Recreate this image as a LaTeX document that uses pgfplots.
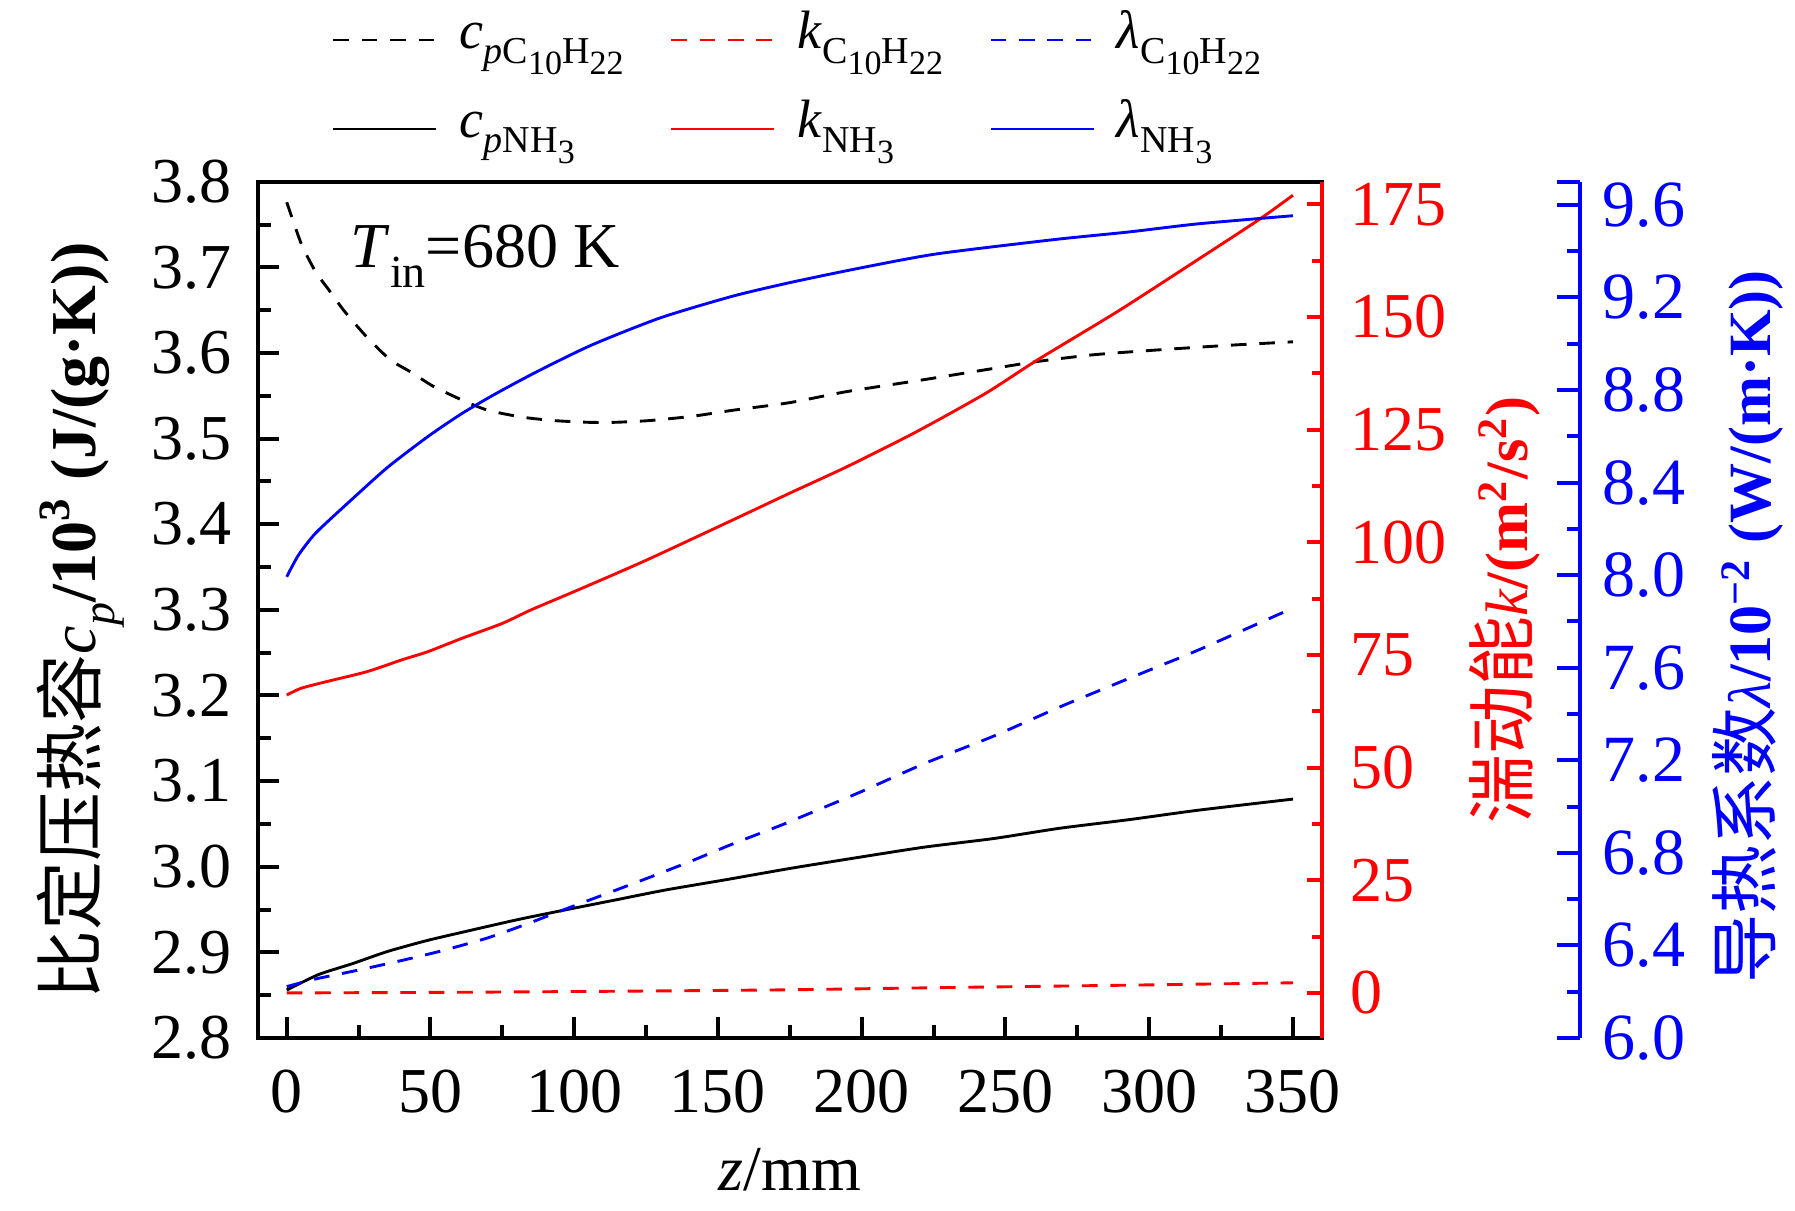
\documentclass[border=0pt]{standalone}
\usepackage{fontspec}
\setmainfont{Liberation Serif}
\newfontfamily\cjk{Noto Sans CJK SC}
\usepackage{pgfplots}
\usepackage{pgfplotstable}
\pgfplotsset{compat=1.18}

\pgfplotstableread{
z v
0 3.776
5 3.728
10 3.695
15 3.672
20 3.649
28 3.618
36 3.592
43 3.578
51 3.561
61 3.545
70 3.533
82 3.525
93 3.521
105 3.519
114 3.519
126 3.521
141 3.526
155 3.533
175 3.542
195 3.555
222 3.569
246 3.582
261 3.590
281 3.598
305 3.604
328 3.609
350 3.613
}\cpC

\pgfplotstableread{
z v
0 2.856
11 2.874
23 2.887
35 2.901
49 2.914
63 2.925
80 2.938
96 2.949
114 2.961
132 2.973
153 2.985
175 2.998
199 3.011
222 3.023
246 3.033
269 3.045
293 3.055
317 3.066
350 3.079
}\cpN

\pgfplotstableread{
z v
0 0.0
60 0.15
120 0.4
175 0.7
230 1.2
290 1.7
350 2.25
}\kC

\pgfplotstableread{
z v
0 66.1
5 67.6
14 69.1
28 71.3
40 73.9
49 75.7
61 78.7
75 82.0
85 85.0
102 89.6
125 96.0
155 104.9
175 110.9
195 116.8
219 124.5
243 133.0
261 140.4
289 151.2
314 161.5
338 171.5
350 177.0
}\kN

\pgfplotstableread{
z v
0 6.222
10 6.255
24 6.291
40 6.335
54 6.377
70 6.433
84 6.495
98 6.562
113 6.632
127 6.698
141 6.766
155 6.838
170 6.910
175 6.935
199 7.060
222 7.187
246 7.305
269 7.431
293 7.554
317 7.676
350 7.858
}\lamC

\pgfplotstableread{
z v
0 7.993
4 8.085
10 8.181
22 8.320
35 8.465
49 8.598
61 8.699
73 8.786
87 8.879
106 8.994
130 9.112
155 9.205
175 9.264
199 9.326
226 9.388
267 9.450
293 9.483
317 9.518
350 9.553
}\lamN

\newcommand{\lsub}[1]{\raisebox{-0.28em}{\fontsize{9.5}{9.5}\selectfont #1}}
\newcommand{\lssub}[1]{\raisebox{-0.3em}{\fontsize{8.5}{8.5}\selectfont #1}}
\newcommand{\cjkl}[1]{{\cjk\fontsize{17.25}{17.25}\selectfont #1}}

\begin{document}
\begin{tikzpicture}
\useasboundingbox (0,0) rectangle (448.75pt,302.5pt);
\pgfplotsset{
  myaxis/.style={
    scale only axis, width=265.925pt, height=214.075pt,
    at={(64.5pt,43pt)}, anchor=south west,
    xmin=-10, xmax=360,
    tick label style={font=\fontsize{16}{16}\selectfont},
    /pgf/number format/assume math mode=true,
  },
  dashC/.style={dash pattern=on 3.9pt off 3.2pt},
  lw/.style={line width=0.72pt},
}
\begin{axis}[myaxis,
  ymin=2.8, ymax=3.8,
  xtick={0,50,...,350}, minor x tick num=1,
  ytick={2.8,2.9,3.0,3.1,3.2,3.3,3.4,3.5,3.6,3.7,3.8}, minor y tick num=1,
  xtick pos=left, ytick pos=left,
  tick align=inside,
  axis line style={line width=1pt},
  tick style={line width=1pt, black},
  major tick length=5.25pt, minor tick length=3.25pt,
  yticklabel style={/pgf/number format/fixed, /pgf/number format/fixed zerofill, /pgf/number format/precision=1, inner sep=0pt, anchor=east, xshift=-6.5pt},
  xticklabel style={inner sep=0pt, anchor=base, yshift=-18.6pt},
  legend columns=3,
  legend cell align=left,
  legend image code/.code={\draw[#1] (0pt,0pt) -- (25.75pt,0pt);},
  legend style={draw=none, fill=none, inner sep=0pt, outer sep=0pt,
    at={(axis description cs:0.0696,1.2028)}, anchor=north west,
    font=\fontsize{13.5}{13.5}\selectfont,
    nodes={inner sep=0pt, text height=10pt, text depth=6pt},
    column sep=5.5pt, row sep=6.25pt,
    /tikz/every even column/.append style={column sep=11.5pt}},
]
\addplot[black, lw, dashC, smooth, tension=0.4, forget plot] table[x=z,y=v] {\cpC};
\addplot[black, lw, smooth, tension=0.4, forget plot] table[x=z,y=v] {\cpN};
\addlegendimage{black, lw, dashC}
\addlegendentry{\textit{c}\lsub{\textit{p}C\lssub{10}H\lssub{22}}}
\addlegendimage{red, lw, dashC}
\addlegendentry{\textit{k}\lsub{C\lssub{10}H\lssub{22}}}
\addlegendimage{blue, lw, dashC}
\addlegendentry{\textit{λ}\lsub{C\lssub{10}H\lssub{22}}}
\addlegendimage{black, lw}
\addlegendentry{\textit{c}\lsub{\textit{p}NH\lssub{3}}}
\addlegendimage{red, lw}
\addlegendentry{\textit{k}\lsub{NH\lssub{3}}}
\addlegendimage{blue, lw}
\addlegendentry{\textit{λ}\lsub{NH\lssub{3}}}
\end{axis}

\begin{axis}[myaxis,
  axis x line=none, axis y line*=right,
  ymin=-10, ymax=180,
  ytick={0,25,50,75,100,125,150,175}, minor y tick num=1,
  tick align=inside,
  y axis line style={red, line width=1pt, -},
  tick style={red, line width=1pt},
  major tick length=3.75pt, minor tick length=2.5pt,
  yticklabel style={red, inner sep=0pt, anchor=west, xshift=7pt},
]
\addplot[red, lw, dashC, smooth, tension=0.4] table[x=z,y=v] {\kC};
\addplot[red, lw, smooth, tension=0.4] table[x=z,y=v] {\kN};
\end{axis}

\begin{axis}[myaxis,
  axis x line=none, axis y line*=right,
  axis y line shift=64.575pt,
  ymin=6, ymax=9.7,
  ytick={6.0,6.4,6.8,7.2,7.6,8.0,8.4,8.8,9.2,9.6}, minor y tick num=1,
  extra y ticks={9.7}, extra y tick labels={},
  tick align=inside,
  y axis line style={blue, line width=1pt, -},
  tick style={blue, line width=1pt},
  major tick length=5.75pt, minor tick length=3.25pt,
  yticklabel style={blue, font=\fontsize{16.5}{16.5}\selectfont, /pgf/number format/fixed, /pgf/number format/fixed zerofill, /pgf/number format/precision=1, inner sep=0pt, anchor=west, xshift=5.5pt},
]
\addplot[blue, lw, dashC, smooth, tension=0.4] table[x=z,y=v] {\lamC};
\addplot[blue, lw, smooth, tension=0.4] table[x=z,y=v] {\lamN};
\end{axis}

\node[font=\fontsize{16}{16}\selectfont, anchor=base west, inner sep=0pt] at (87.5pt,235.5pt) {\textit{T}\raisebox{-0.3em}{\fontsize{11.5}{11.5}\selectfont in}=680 K};
\node[font=\fontsize{16}{16}\selectfont, anchor=base, inner sep=0pt] at (197.5pt,5pt) {\textit{z}/mm};
\node[font=\fontsize{16}{16}\selectfont, anchor=base, inner sep=0pt, rotate=90] at (23.75pt,147.25pt) {\cjkl{比定压热容}\textit{c}\raisebox{-0.3em}{\fontsize{11.5}{11.5}\selectfont\textit{p}}\textbf{/10\textsuperscript{3} (J/(g·K))}};
\node[font=\fontsize{15}{15}\selectfont, anchor=base, inner sep=0pt, rotate=90, red] at (381.75pt,150pt) {\cjkl{湍动能}\textit{k}\textbf{/(m\textsuperscript{2}/s\textsuperscript{2})}};
\node[font=\fontsize{15}{15}\selectfont, anchor=base, inner sep=0pt, rotate=90, blue] at (442.5pt,145.75pt) {\cjkl{导热系数}\textit{λ}\textbf{/10\textsuperscript{−2} (W/(m·K))}};
\end{tikzpicture}
\end{document}
